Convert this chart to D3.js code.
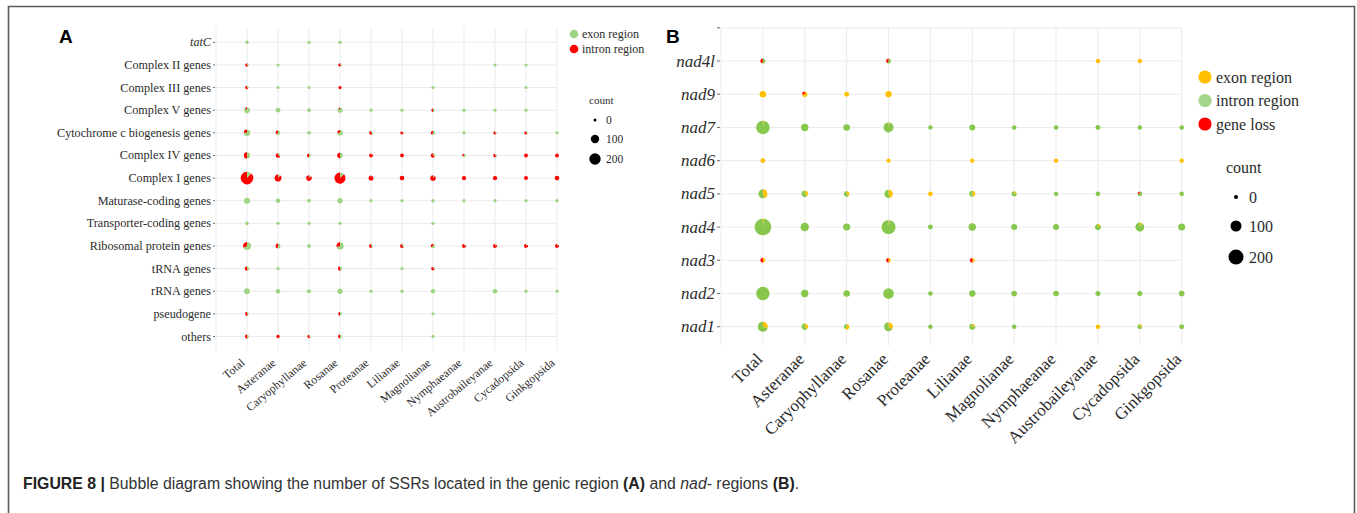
<!DOCTYPE html>
<html><head><meta charset="utf-8">
<script src="https://cdn.jsdelivr.net/npm/d3@7"></script>
<style>body{margin:0;background:#fff;} svg{display:block;}</style>
</head><body>
<svg id="chart" width="1357" height="513"></svg>
<script>
// ---------- DATA ----------
const taxa = ["Total","Asteranae","Caryophyllanae","Rosanae","Proteanae","Lilianae","Magnolianae","Nymphaeanae","Austrobaileyanae","Cycadopsida","Ginkgopsida"];

// Panel A : genic regions
const aRows = ["tatC","Complex II genes","Complex III genes","Complex V genes","Cytochrome c biogenesis genes","Complex IV genes","Complex I genes","Maturase-coding genes","Transporter-coding genes","Ribosomal protein genes","tRNA genes","rRNA genes","pseudogene","others"];
const aExon = [
  [6,0,2,3,0,0,0,0,0,0,0],
  [2,1,0,1,0,0,0,0,1,1,0],
  [2,1,1,0,0,0,1,0,0,1,0],
  [40,23,9,30,3,3,2,3,3,3,0],
  [40,14,10,28,2,1,10,4,1,1,4],
  [24,6,6,18,1,0,6,4,2,0,0],
  [30,8,5,25,1,0,4,0,0,0,0],
  [45,17,9,33,3,3,6,3,3,3,3],
  [8,3,3,4,0,0,3,0,0,0,0],
  [62,14,10,50,4,3,11,1,1,1,1],
  [8,2,0,6,0,2,2,0,0,0,0],
  [45,22,12,33,3,3,17,0,22,4,4],
  [3,0,0,3,0,0,2,0,0,0,0],
  [5,0,1,5,0,0,3,0,0,0,0]
];
const aIntron = [
  [0,0,0,0,0,0,0,0,0,0,0],
  [3,0,0,2,0,0,0,0,0,0,0],
  [3,0,0,2,0,0,0,0,0,0,0],
  [5,0,0,3,0,0,2,0,0,0,0],
  [13,8,0,9,4,3,7,0,2,2,0],
  [24,14,6,19,10,9,11,2,4,10,10],
  [217,58,32,168,25,20,33,17,17,12,20],
  [0,0,0,0,0,0,0,0,0,0,0],
  [0,0,0,0,0,0,0,0,0,0,0],
  [29,12,0,21,6,6,6,7,7,7,7],
  [9,0,0,7,0,0,5,0,0,0,0],
  [0,0,0,0,0,0,0,0,0,0,0],
  [4,0,0,3,0,0,0,0,0,0,0],
  [6,4,2,5,0,0,0,0,0,0,0]
];
const aLegendLabels = ["exon region","intron region"];

// Panel B : nad regions
const bRows = ["nad4l","nad9","nad7","nad6","nad5","nad4","nad3","nad2","nad1"];
const bExon = [
  [0,0,0,0,0,0,0,0,4,4,0],
  [24,9,8,22,0,0,0,0,0,0,0],
  [4,0,0,3,0,0,0,0,0,0,0],
  [8,0,0,1,0,3,0,3,0,0,3],
  [28,10,6,24,5,9,2,0,0,0,0],
  [6,0,0,4,0,0,0,0,3,6,0],
  [4,0,0,3,0,3,0,0,0,0,0],
  [0,0,0,0,0,0,0,0,0,0,0],
  [24,10,9,22,0,4,0,0,5,2,0]
];
const bIntron = [
  [5,0,0,4,0,0,0,0,0,0,0],
  [0,0,0,0,0,0,0,0,0,0,0],
  [153,37,26,77,3,19,5,5,8,5,5],
  [0,0,0,0,0,0,0,0,0,0,0],
  [34,16,9,28,0,10,7,3,5,4,5],
  [242,52,32,168,8,37,19,19,16,56,32],
  [0,0,0,0,0,0,0,0,0,0,0],
  [157,37,26,92,5,23,15,15,9,9,15],
  [56,16,6,40,5,15,5,0,0,6,8]
];
const bLoss = [
  [4,0,0,3,0,0,0,0,0,0,0],
  [0,3,0,0,0,0,0,0,0,0,0],
  [0,0,0,0,0,0,0,0,0,0,0],
  [0,0,0,0,0,0,0,0,0,0,0],
  [0,0,0,0,0,0,0,0,0,1,0],
  [0,0,0,0,0,0,0,0,0,0,0],
  [4,0,0,3,0,3,0,0,0,0,0],
  [0,0,0,0,0,0,0,0,0,0,0],
  [0,0,0,0,0,0,0,0,0,0,0]
];
const bLegendLabels = ["exon region","intron region","gene loss"];
const countTicks = [0,100,200];

// ---------- STYLES ----------
const aColors = ["#9fd483","#ff0000"];
const bColors = ["#ffc000","#86c74c","#ff0000"];
const bLegendColors = ["#ffc000","#a3d68b","#ff0000"];
const serif = "'Liberation Serif','Times New Roman',serif";
const sans = "'Liberation Sans',Arial,sans-serif";
const grid = "#ebebeb";

const svg = d3.select("#chart");
svg.append("rect").attr("width",1357).attr("height",513).attr("fill","#fff");
svg.append("path").attr("d","M8.5,513V6.5H1354.5V513").attr("fill","none").attr("stroke","#5a5a5a").attr("stroke-width",1.6);

const pie = d3.pie().sort(null).value(d=>d);

function panel(cfg){
  const g = svg.append("g");
  const x = d3.scalePoint().domain(["",...taxa]).range(cfg.xRange);
  const y = d3.scalePoint().domain(cfg.yDomain).range(cfg.yRange);
  const r = d3.scaleRadial().domain([0,200]).range(cfg.rRange);
  const [x0,x1] = cfg.xRange, [py0,py1] = cfg.panelY;
  // grid
  g.selectAll(".vg").data(["",...taxa]).join("line")
    .attr("x1",d=>x(d)).attr("x2",d=>x(d)).attr("y1",py0).attr("y2",py1)
    .attr("stroke",grid).attr("stroke-width",1);
  g.selectAll(".hg").data(cfg.yDomain).join("line")
    .attr("x1",x0).attr("x2",x1).attr("y1",d=>y(d)).attr("y2",d=>y(d))
    .attr("stroke",grid).attr("stroke-width",1);
  // y ticks + labels
  const yt = g.selectAll(".yt").data(cfg.yDomain).join("g").attr("transform",d=>`translate(0,${y(d)})`);
  yt.append("line").attr("x1",x0-cfg.tick).attr("x2",x0-1).attr("stroke","#444").attr("stroke-width",0.8);
  yt.append("text").attr("x",x0-cfg.tick-2).attr("text-anchor","end").attr("dominant-baseline","central")
    .attr("font-family",serif).attr("font-size",cfg.yFont).attr("fill","#2b2b2b")
    .attr("font-style",d=>cfg.italicY(d)?"italic":"normal").text(d=>d);
  // x labels
  g.selectAll(".xl").data(taxa).join("text")
    .attr("transform",d=>`translate(${x(d)+cfg.xLabDx},${py1+cfg.xLabDy}) rotate(${-cfg.angle})`)
    .attr("text-anchor","end").attr("dy","0.72em")
    .attr("font-family",serif).attr("font-size",cfg.xFont).attr("fill","#2b2b2b").text(d=>d);
  // bubbles
  const cells = [];
  cfg.rows.forEach((row,i)=>taxa.forEach((t,j)=>{
    const vals = cfg.series.map(s=>s[i][j]);
    const total = d3.sum(vals);
    if(total>0) cells.push({row,t,vals,total});
  }));
  const cg = g.selectAll(".cell").data(cells).join("g").attr("transform",d=>`translate(${x(d.t)},${y(d.row)})`);
  cg.each(function(d){
    const arc = d3.arc().innerRadius(0).outerRadius(r(d.total));
    d3.select(this).selectAll("path").data(pie(d.vals)).join("path")
      .attr("d",arc).attr("fill",(p,k)=>cfg.colors[k]);
  });
  return {r};
}

// Panel A
const A = panel({
  rows:aRows, yDomain:aRows, series:[aExon,aIntron], colors:aColors,
  xRange:[216,557], yRange:[42.3,336.5], panelY:[28,350.5], rRange:[1.5,5.7],
  tick:3, yFont:12.2, xFont:11.8, angle:40, xLabDx:-7, xLabDy:7,
  italicY:d=>d==="tatC"
});
// Panel B
const B = panel({
  rows:bRows, yDomain:["",...bRows], series:[bExon,bIntron,bLoss], colors:bColors,
  xRange:[721,1181.7], yRange:[27.8,326.7], panelY:[27.5,345.5], rRange:[2,7.5],
  tick:4, yFont:17, xFont:17, angle:45, xLabDx:-8, xLabDy:6,
  italicY:d=>true
});

// Legends A
const lgA = svg.append("g");
aLegendLabels.forEach((l,i)=>{
  lgA.append("circle").attr("cx",574).attr("cy",34+i*15).attr("r",4.3).attr("fill",aColors[i]);
  lgA.append("text").attr("x",582).attr("y",34+i*15).attr("dominant-baseline","central")
    .attr("font-family",serif).attr("font-size",12).attr("fill","#2b2b2b").text(l);
});
lgA.append("text").attr("x",589).attr("y",100).attr("dominant-baseline","central")
  .attr("font-family",serif).attr("font-size",11).attr("fill","#2b2b2b").text("count");
const aLy = [120,139,159];
countTicks.forEach((c,i)=>{
  lgA.append("circle").attr("cx",595).attr("cy",aLy[i]).attr("r",A.r(c)).attr("fill","#000");
  lgA.append("text").attr("x",606).attr("y",aLy[i]).attr("dominant-baseline","central")
    .attr("font-family",serif).attr("font-size",11.5).attr("fill","#2b2b2b").text(c);
});

// Legends B
const lgB = svg.append("g");
bLegendLabels.forEach((l,i)=>{
  lgB.append("circle").attr("cx",1205).attr("cy",77+i*23.5).attr("r",6.6).attr("fill",bLegendColors[i]);
  lgB.append("text").attr("x",1216).attr("y",77+i*23.5).attr("dominant-baseline","central")
    .attr("font-family",serif).attr("font-size",16).attr("fill","#2b2b2b").text(l);
});
lgB.append("text").attr("x",1226).attr("y",167).attr("dominant-baseline","central")
  .attr("font-family",serif).attr("font-size",16).attr("fill","#2b2b2b").text("count");
const bLy = [197,226,257];
countTicks.forEach((c,i)=>{
  lgB.append("circle").attr("cx",1236).attr("cy",bLy[i]).attr("r",B.r(c)).attr("fill","#000");
  lgB.append("text").attr("x",1249).attr("y",bLy[i]).attr("dominant-baseline","central")
    .attr("font-family",serif).attr("font-size",16).attr("fill","#2b2b2b").text(c);
});

// Panel letters
svg.append("text").attr("x",59).attr("y",43).attr("font-family",sans).attr("font-weight","bold").attr("font-size",19).attr("fill","#000").text("A");
svg.append("text").attr("x",666).attr("y",43).attr("font-family",sans).attr("font-weight","bold").attr("font-size",19).attr("fill","#000").text("B");

// Caption
const cap = svg.append("text").attr("x",23).attr("y",489).attr("font-family",sans).attr("font-size",14).attr("fill","#333");
const parts = [
  ["FIGURE 8 | ","bold","normal"],
  ["Bubble diagram showing the number of SSRs located in the genic region ","normal","normal"],
  ["(A)","bold","normal"],[" and ","normal","normal"],["nad","normal","italic"],
  ["- regions ","normal","normal"],["(B)","bold","normal"],[".","normal","normal"]
];
parts.forEach(p=>cap.append("tspan").attr("font-weight",p[1]).attr("font-style",p[2]).attr("fill",p[1]==="bold"?"#222":"#333").text(p[0]));
const w = cap.node().getComputedTextLength();
cap.attr("font-size",14*777/w);
</script>
</body></html>
